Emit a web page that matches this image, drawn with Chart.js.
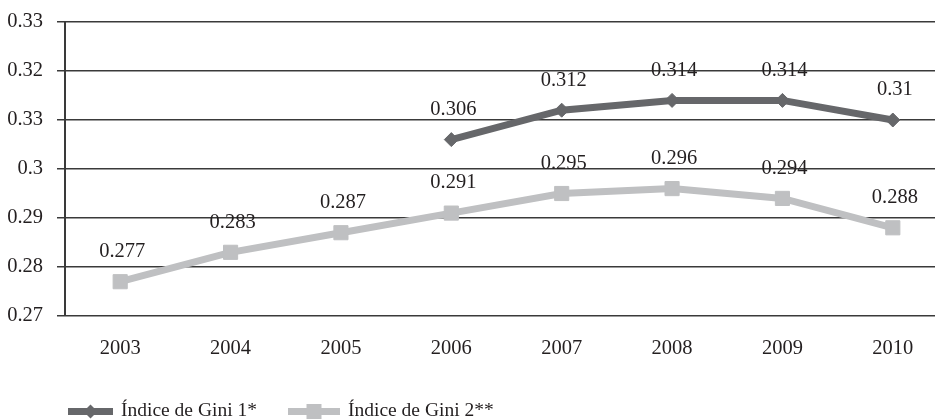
<!DOCTYPE html>
<html>
<head>
<meta charset="utf-8">
<script src="https://cdn.jsdelivr.net/npm/chart.js@4"></script>
<style>
html,body{margin:0;padding:0;overflow:hidden;background:#fff;}
#wrap{width:959px;height:419px;}
</style>
</head>
<body>
<div id="wrap"><canvas id="c" width="959" height="419"></canvas></div>
<script>
const categories = ['2003','2004','2005','2006','2007','2008','2009','2010'];
const gini1 = [null, null, null, 0.306, 0.312, 0.314, 0.314, 0.31];
const gini2 = [0.277, 0.283, 0.287, 0.291, 0.295, 0.296, 0.294, 0.288];
const yTickLabels = ['0.27','0.28','0.29','0.3','0.33','0.32','0.33'];
const seriesNames = ['Índice de Gini 1*', 'Índice de Gini 2**'];

const C1 = '#66676a';
const C2 = '#bfc0c2';
const TXT = '#231f20';
const FONT = '"Liberation Serif", "DejaVu Serif", serif';

const valueLabels = {
  id: 'valueLabels',
  afterDatasetsDraw(chart) {
    const ctx = chart.ctx;
    ctx.save();
    ctx.font = '20.5px ' + FONT;
    ctx.fillStyle = TXT;
    ctx.textAlign = 'center';
    ctx.textBaseline = 'middle';
    chart.data.datasets.forEach((ds, di) => {
      const meta = chart.getDatasetMeta(di);
      meta.data.forEach((pt, i) => {
        const v = ds.data[i];
        if (v === null || v === undefined) return;
        ctx.fillText(String(v), pt.x + 2, pt.y - 30);
      });
    });
    ctx.restore();
  }
};

const customLegend = {
  id: 'customLegend',
  afterDraw(chart) {
    const ctx = chart.ctx;
    const items = [
      {x0: 68, x1: 113, tx: 121, color: C1, shape: 'diamond', label: seriesNames[0]},
      {x0: 288, x1: 340, tx: 348, color: C2, shape: 'square', label: seriesNames[1]}
    ];
    const y = 411.5;
    ctx.save();
    items.forEach(it => {
      ctx.strokeStyle = it.color;
      ctx.lineWidth = 7;
      ctx.beginPath();
      ctx.moveTo(it.x0, y);
      ctx.lineTo(it.x1, y);
      ctx.stroke();
      const cx = (it.x0 + it.x1) / 2;
      ctx.fillStyle = it.color;
      ctx.beginPath();
      if (it.shape === 'diamond') {
        ctx.moveTo(cx - 7, y); ctx.lineTo(cx, y - 7); ctx.lineTo(cx + 7, y); ctx.lineTo(cx, y + 7);
        ctx.closePath();
      } else {
        ctx.rect(cx - 7.5, y - 7.5, 15, 15);
      }
      ctx.fill();
      ctx.font = '19.5px ' + FONT;
      ctx.fillStyle = TXT;
      ctx.textAlign = 'left';
      ctx.textBaseline = 'alphabetic';
      ctx.fillText(it.label, it.tx, 416);
    });
    ctx.restore();
  }
};

new Chart(document.getElementById('c'), {
  type: 'line',
  data: {
    labels: categories,
    datasets: [
      {
        label: seriesNames[0],
        data: gini1,
        borderColor: C1,
        backgroundColor: C1,
        borderWidth: 7,
        pointStyle: 'rectRot',
        pointRadius: 7,
        pointBorderWidth: 1,
        pointBackgroundColor: C1,
        pointBorderColor: C1,
        tension: 0,
        fill: false
      },
      {
        label: seriesNames[1],
        data: gini2,
        borderColor: C2,
        backgroundColor: C2,
        borderWidth: 7,
        pointStyle: 'rect',
        pointRadius: 10,
        pointBorderWidth: 1,
        pointBackgroundColor: C2,
        pointBorderColor: C2,
        tension: 0,
        fill: false
      }
    ]
  },
  options: {
    responsive: false,
    animation: false,
    devicePixelRatio: 1,
    layout: { padding: { top: 22, right: 0, bottom: 53, left: 0 } },
    plugins: {
      legend: { display: false },
      tooltip: { enabled: false }
    },
    scales: {
      x: {
        offset: true,
        grid: { display: false, drawTicks: false },
        border: { display: false },
        ticks: {
          color: TXT,
          font: { family: FONT, size: 20.5 },
          padding: 20,
          maxRotation: 0,
          autoSkip: false
        },
        afterFit(scale) { scale.height = 50; scale.paddingLeft = 0; scale.paddingRight = 0; }
      },
      y: {
        min: 0.27,
        max: 0.33,
        grid: { color: '#3a3a3a', lineWidth: 1.5, tickLength: 8, drawTicks: true },
        border: { display: true, color: '#3a3a3a', width: 2 },
        ticks: {
          stepSize: 0.01,
          color: TXT,
          font: { family: FONT, size: 20.5 },
          padding: 14,
          callback: (v, i) => yTickLabels[i]
        },
        afterFit(scale) { scale.width = 65; scale.paddingTop = 0; scale.paddingBottom = 0; }
      }
    }
  },
  plugins: [valueLabels, customLegend]
});
</script>
</body>
</html>
